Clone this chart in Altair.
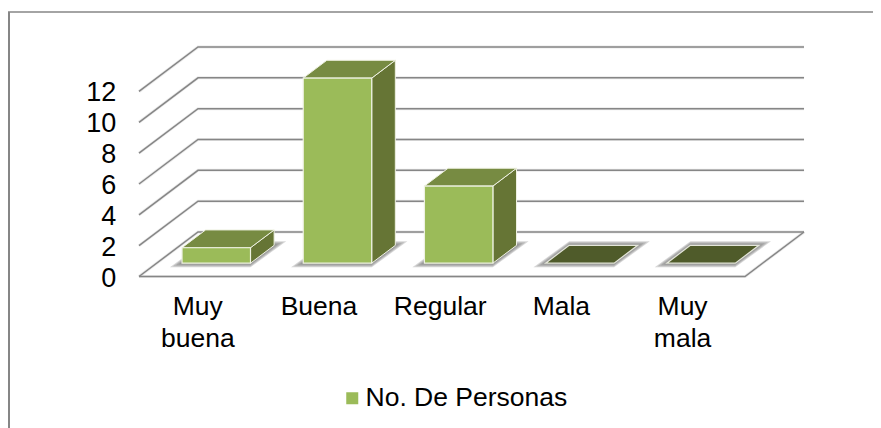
import altair as alt
import pandas as pd

categories = ["Muy buena", "Buena", "Regular", "Mala", "Muy mala"]
values = [1, 12, 5, 0, 0]
y_ticks = [0, 2, 4, 6, 8, 10, 12]
series = "No. De Personas"

# chart size and the linear scales (px per category, px per value unit)
W, H = 865, 420
OX, OY = 131.0, 268.5   # position of the floor's front-left corner
PX_CAT, PX_VAL = 121.2, 15.42
x_dom = [-OX / PX_CAT, (W - OX) / PX_CAT]
y_dom = [-(H - OY) / PX_VAL, OY / PX_VAL]
x_sc = alt.Scale(domain=x_dom, range=[0, W], nice=False, zero=False)
y_sc = alt.Scale(domain=y_dom, range=[H, 0], nice=False, zero=False)

# oblique projection: full depth of the floor in data units
DX, DY = 0.487, 2.886
D0, D1 = 0.30, 0.70      # bars run from this depth to that depth
BAR = 0.565              # bar width in category units
BAR0 = 0.355             # left edge of the bar within its category at depth D0


def px(c, d):
    return c + d * DX


def py(v, d):
    return v + d * DY


# grid lines
lines = []
for v in y_ticks:
    lines += [
        dict(k=v, x=px(0, 0), y=py(v, 0)),
        dict(k=v, x=px(0, 1), y=py(v, 1)),
        dict(k=v, x=px(5, 1), y=py(v, 1)),
    ]
lines += [dict(k="f", x=px(0, 0), y=py(0, 0)), dict(k="f", x=px(5, 0), y=py(0, 0)), dict(k="f", x=px(5, 1), y=py(0, 1))]
df_lines = pd.DataFrame(lines)

front, tops, sides = [], [], []
for i, (name, v) in enumerate(zip(categories, values)):
    l = i + BAR0
    r = l + BAR
    front.append(dict(cat=name, series=series, x=l, x2=r, y=D0 * DY, y2=v + D0 * DY))
    tops += [
        dict(cat=name, v=v, y=v + D0 * DY, x=l, x2=r),
        dict(cat=name, v=v, y=v + D1 * DY, x=l + (D1 - D0) * DX, x2=r + (D1 - D0) * DX),
    ]
    sides += [
        dict(cat=name, v=v, x=r, y=D0 * DY, y2=v + D0 * DY),
        dict(cat=name, v=v, x=r + (D1 - D0) * DX, y=D1 * DY, y2=v + D1 * DY),
    ]
df_front = pd.DataFrame(front)
df_tops = pd.DataFrame(tops)
df_sides = pd.DataFrame(sides)

# soft floor shadows: stacked translucent footprints, widening outwards
shadow = []
for g, (ex, ey) in enumerate([(0.10, 0.26), (0.075, 0.2), (0.05, 0.13), (0.025, 0.07)]):
    for i in range(len(categories)):
        l = i + BAR0
        r = l + BAR
        dx = (D1 - D0) * DX
        shadow += [
            dict(k=f"{g}-{i}", y=D0 * DY - ey, x=l - ex, x2=r),
            dict(k=f"{g}-{i}", y=D1 * DY + ey, x=l + dx, x2=r + dx + ex),
        ]
df_shadow = pd.DataFrame(shadow)

X = lambda f="x": alt.X(f"{f}:Q", scale=x_sc, axis=None)
Y = lambda f="y": alt.Y(f"{f}:Q", scale=y_sc, axis=None)

frame = pd.DataFrame({"a": [0]})
frame_top = alt.Chart(frame).mark_rule(color="#868686", strokeWidth=1.6).encode(
    x=alt.value(0), x2=alt.value(W), y=alt.value(4))
frame_left = alt.Chart(frame).mark_rule(color="#868686", strokeWidth=2).encode(
    x=alt.value(1), y=alt.value(4), y2=alt.value(H))

grid_glow = alt.Chart(df_lines).mark_line(color="#d9d9d9", strokeWidth=3, opacity=0.55, interpolate="linear").encode(
    x=X(), y=Y(), detail="k:N", order=alt.Order("idx:Q")).transform_window(idx="row_number()", groupby=["k"])
grid = alt.Chart(df_lines).mark_line(color="#868686", strokeWidth=1.5, interpolate="linear").encode(
    x=X(), y=Y(), detail="k:N", order=alt.Order("idx:Q")).transform_window(idx="row_number()", groupby=["k"])

shadow_l = alt.Chart(df_shadow).mark_area(orient="horizontal", color="#6e6e6e", opacity=0.28).encode(
    y=Y(), x=X(), x2="x2:Q", detail="k:N")

STROKE = "#eef1e2"
side_l = alt.Chart(df_sides[df_sides.v > 0]).mark_area(color="#667535", stroke=STROKE, strokeWidth=1).encode(
    x=X(), y=Y(), y2="y2:Q", detail="cat:N")
top_l = alt.Chart(df_tops[df_tops.v > 0]).mark_area(orient="horizontal", color="#778B42", stroke=STROKE, strokeWidth=1).encode(
    y=Y(), x=X(), x2="x2:Q", detail="cat:N")
top_zero = alt.Chart(df_tops[df_tops.v == 0]).mark_area(orient="horizontal", color="#4F5B2A", stroke="#e4e6da", strokeWidth=1.2).encode(
    y=Y(), x=X(), x2="x2:Q", detail="cat:N")
front_l = alt.Chart(df_front[df_front.y2 > df_front.y]).mark_rect(stroke=STROKE, strokeWidth=1.2).encode(
    x=X(), x2="x2:Q", y=Y(), y2="y2:Q",
    color=alt.Color("series:N", scale=alt.Scale(domain=[series], range=["#9BBB59"]),
                    legend=alt.Legend(orient="none", legendX=331, legendY=377, title=None, labelFontSize=26.5,
                                      labelFont="Liberation Sans", labelColor="#000000", symbolType="square",
                                      symbolSize=144, symbolStrokeWidth=0, labelOffset=0, labelLimit=400)))

df_ticks = pd.DataFrame({"v": y_ticks, "x": [-0.188] * len(y_ticks)})
ytext = alt.Chart(df_ticks).mark_text(align="right", baseline="middle", font="Liberation Sans", fontSize=27, color="#000000", dy=2).encode(
    x=X(), y=alt.Y("v:Q", scale=y_sc, axis=None), text="v:Q")

df_lab = pd.DataFrame({"x": [i + 0.485 for i in range(5)],
                       "t": [c.split(" ") for c in categories]})
xtext = alt.Chart(df_lab).mark_text(align="center", baseline="top", font="Liberation Sans", fontSize=26.5, color="#000000", lineHeight=31.5).encode(
    x=X(), y=alt.value(286), text="t:N")

chart = alt.layer(frame_top, frame_left, grid_glow, grid, shadow_l, side_l, top_l, top_zero, front_l, ytext, xtext).resolve_scale(
    x="shared", y="shared").properties(
    width=W, height=H, padding=0, autosize=alt.AutoSizeParams(type="none"),
    background="#ffffff").configure_view(stroke=None)

chart.save("out.html", embed_options={"renderer": "svg", "actions": False})
